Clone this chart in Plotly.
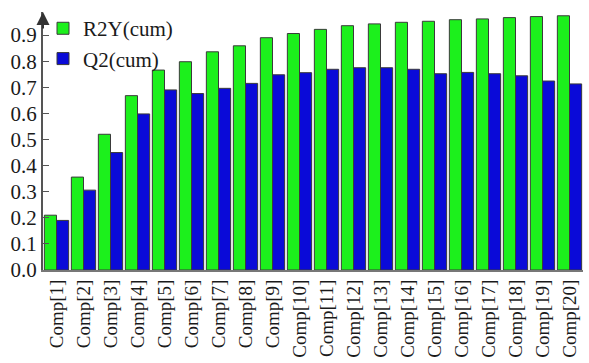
import plotly.graph_objects as go

categories = [f"Comp[{i}]" for i in range(1, 21)]
r2y = [0.210, 0.356, 0.520, 0.668, 0.766, 0.798, 0.836, 0.859, 0.890, 0.906,
       0.922, 0.936, 0.943, 0.949, 0.953, 0.959, 0.962, 0.967, 0.971, 0.974]
q2 = [0.190, 0.306, 0.450, 0.598, 0.690, 0.676, 0.696, 0.715, 0.748, 0.756,
      0.769, 0.775, 0.775, 0.769, 0.752, 0.757, 0.752, 0.744, 0.724, 0.713]
y_ticks = [0.0, 0.1, 0.2, 0.3, 0.4, 0.5, 0.6, 0.7, 0.8, 0.9]

font = dict(family="Liberation Serif, Times New Roman, serif", size=21, color="#1a1a1a")
xfont = dict(family="Liberation Serif, Times New Roman, serif", size=19, color="#1a1a1a")

fig = go.Figure()
fig.add_trace(go.Bar(x=categories, y=r2y, name="R2Y(cum)",
                     marker=dict(color="#1cf01c", line=dict(color="#3a3a3a", width=1))))
fig.add_trace(go.Bar(x=categories, y=q2, name="Q2(cum)",
                     marker=dict(color="#0a0ad8", line=dict(color="#3a3a3a", width=1))))

fig.update_layout(
    width=589, height=363,
    margin=dict(l=43, r=6, t=12, b=93),
    paper_bgcolor="white", plot_bgcolor="white",
    barmode="group", bargap=0.1, bargroupgap=0.0,
    font=font,
    showlegend=True,
    legend=dict(x=0.0, y=1.015, xanchor="left", yanchor="top",
                bgcolor="rgba(0,0,0,0)", font=font,
                tracegroupgap=0, itemwidth=30),
    xaxis=dict(tickangle=-90, showline=True, linecolor="#777777", linewidth=2,
               ticks="", showgrid=False, tickfont=xfont, automargin=False),
    yaxis=dict(range=[0, 0.9885], tickvals=y_ticks,
               ticktext=[f"{v:.1f}" for v in y_ticks],
               showline=True, linecolor="#555555", linewidth=2,
               ticks="inside", ticklen=6, tickcolor="#555555",
               showgrid=False, zeroline=False, tickfont=font, automargin=False),
)

fig.add_annotation(xref="paper", yref="paper", x=0, y=1.0, ax=0, ay=18,
                   text="", showarrow=True, arrowhead=2, arrowsize=1.3,
                   arrowwidth=2, arrowcolor="#333333")

fig.write_html("out.html")
